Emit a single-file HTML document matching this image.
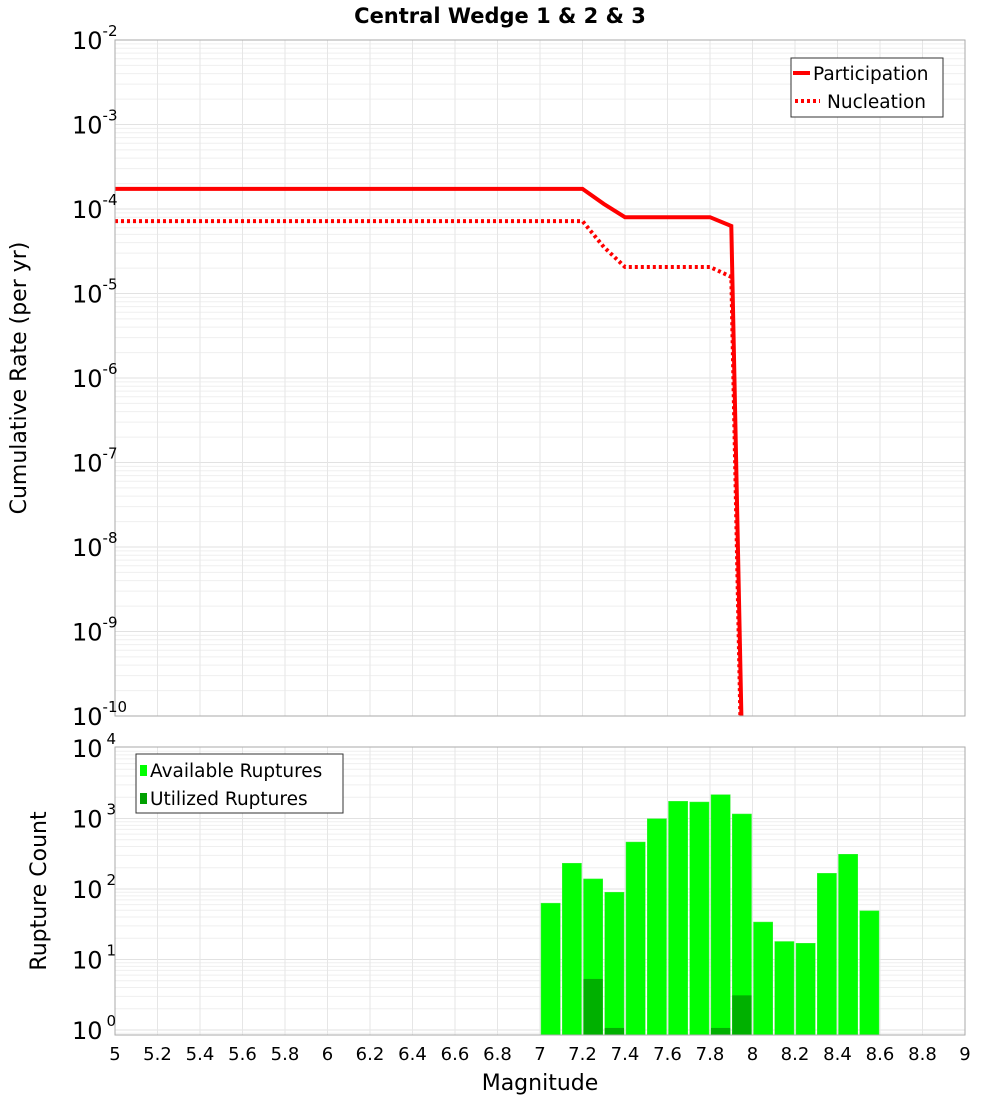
<!DOCTYPE html>
<html><head><meta charset="utf-8"><style>
body{margin:0;background:#fff;font-family:"Liberation Sans","DejaVu Sans",sans-serif;}
svg text{font-family:"DejaVu Sans","Liberation Sans",sans-serif;}
</style></head><body>
<svg id="c" width="1000" height="1100" xmlns="http://www.w3.org/2000/svg">
<text x="500" y="23" text-anchor="middle" font-size="21" font-weight="bold">Central Wedge 1 &amp; 2 &amp; 3</text>
<g id="topPlot"></g>
<g id="botPlot"></g>
<text transform="translate(26,378) rotate(-90)" text-anchor="middle" font-size="22">Cumulative Rate (per yr)</text>
<text transform="translate(46,891) rotate(-90)" text-anchor="middle" font-size="22">Rupture Count</text>
<text x="540" y="1090" text-anchor="middle" font-size="22">Magnitude</text>
</svg>
<script>
const partMags=[5,7.2,7.3,7.4,7.8,7.9,8.0];
const partRates=[1.73e-4,1.73e-4,1.15e-4,8.0e-5,8.0e-5,6.3e-5,4e-17];
const nuclMags=[5,7.2,7.3,7.4,7.8,7.9,8.0];
const nuclRates=[7.2e-5,7.2e-5,3.55e-5,2.06e-5,2.06e-5,1.57e-5,1e-17];
const binStarts=[7.0,7.1,7.2,7.3,7.4,7.5,7.6,7.7,7.8,7.9,8.0,8.1,8.2,8.3,8.4,8.5];
const availCounts=[63,232,139,90,464,993,1754,1714,2177,1159,34,18,17,167,311,49];
const utilCounts=[0,0,5.3,1.07,0,0,0,0,1.07,3.1,0,0,0,0,0,0];
const xTicks=[5,5.2,5.4,5.6,5.8,6,6.2,6.4,6.6,6.8,7,7.2,7.4,7.6,7.8,8,8.2,8.4,8.6,8.8,9];
const topExps=[-2,-3,-4,-5,-6,-7,-8,-9,-10];
const botExps=[4,3,2,1,0];

const NS="http://www.w3.org/2000/svg";
const L=115,R=965;
const X=m=>L+(m-5)*(R-L)/4;
const T0=40,T1=716;
const YT=v=>T0+(-2-Math.log10(v))*(T1-T0)/8;
const B0=747,B1=1035;
const YB=v=>748+(4-Math.log10(v))*70.5;
function el(p,t,a){const e=document.createElementNS(NS,t);for(const k in a)e.setAttribute(k,a[k]);p.appendChild(e);return e;}
const svgRoot=document.getElementById('c');
function grid(g,y0,y1,Yf,lo,hi){
 const gg=el(g,'g',{});
 
 
 for(let d=lo;d<hi;d++)for(let k=1;k<10;k++){const y=Yf(k*Math.pow(10,d));if(y<y0||y>y1)continue;el(gg,'line',{x1:L,x2:R,y1:y,y2:y,stroke:k==1?'#e2e2e2':'#efefef','stroke-width':1});}
 xTicks.forEach(t=>{const x=X(t);el(gg,'line',{x1:x,x2:x,y1:y0,y2:y1,stroke:'#e6e6e6','stroke-width':1});});
}
const topG=document.getElementById('topPlot'),botG=document.getElementById('botPlot');
grid(topG,T0,T1,YT,-10,-2);
grid(botG,B0,B1,YB,-1,4);
const defs=el(svgRoot,'defs',{});
const cp=el(defs,'clipPath',{id:'ct'});el(cp,'rect',{x:L,y:T0,width:R-L,height:T1-T0});
function line(mags,vals,dash,name){
 const d=mags.map((m,i)=>(i?'L':'M')+X(m).toFixed(1)+' '+YT(vals[i]).toFixed(1)).join(' ');
 const p=el(topG,'path',{d:d,fill:'none',stroke:'#ff0000','stroke-width':4,'clip-path':'url(#ct)'});
 if(dash)p.setAttribute('stroke-dasharray','3 3');
 
 
}
line(partMags,partRates,false,'participation-line');
line(nuclMags,nuclRates,true,'nucleation-line');
el(topG,'rect',{x:L,y:T0,width:R-L,height:T1-T0,fill:'none',stroke:'#aaa'});
topExps.forEach(e=>{const y=YT(Math.pow(10,e));const t=el(topG,'text',{x:72,y:y+9,'font-size':24});
 
 
 t.innerHTML='10<tspan dy="-13" font-size="15">'+e+'</tspan>';});
const lg=el(topG,'g',{});


el(lg,'rect',{x:791,y:58,width:152,height:59,fill:'#fff',stroke:'#333'});
el(lg,'line',{x1:793,x2:810,y1:73,y2:73,stroke:'#f00','stroke-width':4});
el(lg,'text',{x:813,y:80,'font-size':18.5}).textContent='Participation';
el(lg,'line',{x1:795,x2:820,y1:101,y2:101,stroke:'#f00','stroke-width':4,'stroke-dasharray':'3 3'});
el(lg,'text',{x:827,y:108,'font-size':18.5}).textContent='Nucleation';
const bb=el(botG,'g',{});
binStarts.forEach((m,i)=>{
 const x=X(m)+1,w=X(m+0.1)-X(m)-2;
 const y=YB(availCounts[i]);
 const r=el(bb,'rect',{x:x,y:y,width:w,height:B1-y,fill:'#00ff00',stroke:'#44ee44','stroke-width':0.5});
 
 
 if(utilCounts[i]>0){const yu=YB(utilCounts[i]);
  const u=el(bb,'rect',{x:x,y:yu,width:w,height:B1-yu,fill:'#00b000'});
  
  }
});
el(botG,'rect',{x:L,y:B0,width:R-L,height:B1-B0,fill:'none',stroke:'#aaa'});
botExps.forEach(e=>{const y=YB(Math.pow(10,e));const t=el(botG,'text',{x:72,y:y+9,'font-size':24});
 
 
 t.innerHTML='10<tspan dx="4" dy="-13" font-size="15">'+e+'</tspan>';});
xTicks.forEach(v=>{const t=el(botG,'text',{x:X(v),y:1060,'text-anchor':'middle','font-size':18});
 
 
 t.textContent=String(v);});
const bl=el(botG,'g',{});


el(bl,'rect',{x:136,y:754,width:207,height:59,fill:'#fff',stroke:'#333'});
el(bl,'rect',{x:140,y:765,width:7,height:11,fill:'#00ff00'});
el(bl,'text',{x:150,y:777,'font-size':18.5}).textContent='Available Ruptures';
el(bl,'rect',{x:140,y:793,width:7,height:11,fill:'#00a000'});
el(bl,'text',{x:150,y:805,'font-size':18.5}).textContent='Utilized Ruptures';
</script>
</body></html>
